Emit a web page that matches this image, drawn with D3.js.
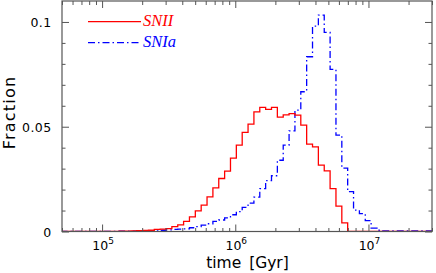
<!DOCTYPE html>
<html>
<head>
<meta charset="utf-8">
<script src="https://cdn.jsdelivr.net/npm/d3@7"></script>
<style>
  body { margin: 0; background: #fff; }
  svg text { font-family: "DejaVu Sans", sans-serif; }
  svg text.legend { font-family: "Liberation Serif", "DejaVu Serif", serif; font-style: italic; }
</style>
</head>
<body>
<script>
//Width and height
var width = 436;
var height = 273;
var margin = {left: 62, right: 4, top: 1, bottom: 41.5};

//Histogram bins: log10(time) of first edge and bin width in dex
var binStart = 4.688;
var binWidth = 0.044;

//Fraction per bin
var snII = [0, 0, 0, 0, 0, 0, 0, 0, 0.0001, 0.0001, 0.0002, 0.0002, 0.0003,
    0.0004, 0.0005, 0.0006, 0.0010, 0.0011, 0.0014, 0.0023, 0.0032, 0.0048, 0.0070,
    0.0098, 0.0126, 0.0165, 0.0208, 0.0253, 0.0288, 0.0350, 0.0412, 0.0473, 0.0512,
    0.0571, 0.0592, 0.0583, 0.0592, 0.0546, 0.0557, 0.0563, 0.0555, 0.0508, 0.0417,
    0.0404, 0.0317, 0.0289, 0.0205, 0.0121, 0.0041,
    0, 0, 0, 0, 0, 0, 0, 0, 0, 0, 0, 0, 0, 0, 0];

var snIa = [0, 0, 0, 0, 0, 0, 0, 0.0001, 0.0001, 0.0001, 0.0002, 0.0002, 0.0002,
    0.0003, 0.0003, 0.0003, 0.0003, 0.0006, 0.0008, 0.0010, 0.0011, 0.0013, 0.0018,
    0.0023, 0.0030, 0.0037, 0.0048, 0.0055, 0.0065, 0.0080, 0.0095, 0.0115, 0.0135,
    0.0164, 0.0205, 0.0243, 0.0266, 0.0340, 0.0412, 0.0480, 0.0579, 0.0667, 0.0834,
    0.0980, 0.1033, 0.0950, 0.0774, 0.0460, 0.0302, 0.0190, 0.0102, 0.0085, 0.0052,
    0.0016, 0.0006,
    0.0003, 0.0003, 0.0003, 0.0003, 0.0003, 0.0003, 0.0003, 0.0003, 0.0003];

//Axis ticks and labels
var xMajor = [1e5, 1e6, 1e7];
var xMajorExp = ["5", "6", "7"];
var yMajor = [0, 0.05, 0.1];
var yMajorLabels = ["0", "0.05", "0.1"];
var yMinor = [0.01, 0.02, 0.03, 0.04, 0.06, 0.07, 0.08, 0.09];

var legendNames = ["SNII", "SNIa"];
var legendColors = ["#ff0000", "#0000ff"];

//Scales
var x = d3.scaleLog()
    .domain([5e4, 3e7])
    .range([margin.left, width - margin.right]);

var y = d3.scaleLinear()
    .domain([0, 0.11])
    .range([height - margin.bottom, margin.top]);

var xMinor = x.ticks().filter(function(d) { return xMajor.indexOf(d) < 0; });

//Create SVG element
var svg = d3.select("body")
    .append("svg")
    .attr("width", width)
    .attr("height", height);

svg.append("clipPath")
    .attr("id", "plot")
    .append("rect")
    .attr("x", margin.left)
    .attr("y", margin.top)
    .attr("width", width - margin.left - margin.right)
    .attr("height", height - margin.top - margin.bottom);

//Histogram as step line
function stepPoints(vals) {
    var pts = vals.map(function(v, i) {
        return [Math.pow(10, binStart + i * binWidth), v];
    });
    pts.push([Math.pow(10, binStart + vals.length * binWidth), vals[vals.length - 1]]);
    return pts;
}

var line = d3.line()
    .x(function(d) { return x(d[0]); })
    .y(function(d) { return y(d[1]); })
    .curve(d3.curveStepAfter);

var plot = svg.append("g").attr("clip-path", "url(#plot)");

plot.append("path")
    .attr("d", line(stepPoints(snIa)))
    .attr("fill", "none")
    .attr("stroke", legendColors[1])
    .attr("stroke-width", 1.3)
    .attr("stroke-dasharray", "7,3,1.5,3");

plot.append("path")
    .attr("d", line(stepPoints(snII)))
    .attr("fill", "none")
    .attr("stroke", legendColors[0])
    .attr("stroke-width", 1.3);

//Axes (ticks pointing inward on all four sides)
var axisColor = "#555";
function styleAxis(g) {
    g.select(".domain").remove();
    g.selectAll("line").attr("stroke", axisColor).attr("stroke-width", 1);
    g.selectAll("text").remove();
}
var bottomY = height - margin.bottom;
var rightX = width - margin.right;

svg.append("g").attr("transform", "translate(0," + bottomY + ")")
    .call(d3.axisBottom(x).tickValues(xMajor).tickSize(-7)).call(styleAxis);
svg.append("g").attr("transform", "translate(0," + bottomY + ")")
    .call(d3.axisBottom(x).tickValues(xMinor).tickSize(-3.5)).call(styleAxis);
svg.append("g").attr("transform", "translate(0," + margin.top + ")")
    .call(d3.axisTop(x).tickValues(xMajor).tickSize(-7)).call(styleAxis);
svg.append("g").attr("transform", "translate(0," + margin.top + ")")
    .call(d3.axisTop(x).tickValues(xMinor).tickSize(-4)).call(styleAxis);
svg.append("g").attr("transform", "translate(" + margin.left + ",0)")
    .call(d3.axisLeft(y).tickValues(yMajor).tickSize(-7)).call(styleAxis);
svg.append("g").attr("transform", "translate(" + margin.left + ",0)")
    .call(d3.axisLeft(y).tickValues(yMinor).tickSize(-3.5)).call(styleAxis);
svg.append("g").attr("transform", "translate(" + rightX + ",0)")
    .call(d3.axisRight(y).tickValues(yMajor).tickSize(-7)).call(styleAxis);
svg.append("g").attr("transform", "translate(" + rightX + ",0)")
    .call(d3.axisRight(y).tickValues(yMinor).tickSize(-3.5)).call(styleAxis);

//Frame
svg.append("rect")
    .attr("x", margin.left)
    .attr("y", margin.top)
    .attr("width", rightX - margin.left)
    .attr("height", bottomY - margin.top)
    .attr("fill", "none")
    .attr("stroke", axisColor)
    .attr("stroke-width", 1.2);

//Tick labels
svg.selectAll(".ylab")
    .data(yMajor)
    .enter()
    .append("text")
    .attr("x", 51.5)
    .attr("y", function(d) { return y(d) + 5; })
    .attr("text-anchor", "end")
    .attr("font-size", 12.5)
    .attr("letter-spacing", 0.4)
    .text(function(d, i) { return yMajorLabels[i]; });

var xl = svg.selectAll(".xlab")
    .data(xMajor)
    .enter()
    .append("text")
    .attr("x", function(d) { return x(d) + 1; })
    .attr("y", 249.5)
    .attr("text-anchor", "middle")
    .attr("font-size", 12.5);
xl.append("tspan").text("10");
xl.append("tspan")
    .attr("font-size", 9)
    .attr("dy", -6)
    .text(function(d, i) { return xMajorExp[i]; });

//Axis titles
svg.append("text")
    .attr("x", 247.5)
    .attr("y", 267.5)
    .attr("text-anchor", "middle")
    .attr("font-size", 15.5)
    .attr("word-spacing", 3)
    .text("time [Gyr]");

svg.append("text")
    .attr("transform", "translate(14.5,112.5) rotate(-90)")
    .attr("text-anchor", "middle")
    .attr("font-size", 16)
    .attr("letter-spacing", 1.2)
    .text("Fraction");

//Legend
var legendY = [21.7, 42.7];
legendNames.forEach(function(name, i) {
    svg.append("line")
        .attr("x1", 88).attr("x2", 141)
        .attr("y1", legendY[i]).attr("y2", legendY[i])
        .attr("stroke", legendColors[i])
        .attr("stroke-width", 1.3)
        .attr("stroke-dasharray", i === 1 ? "7,3,1.5,3" : null);
    svg.append("text")
        .attr("class", "legend")
        .attr("x", 143)
        .attr("y", legendY[i] + 4.5)
        .attr("font-size", 16.5)
        .attr("fill", legendColors[i])
        .text(name);
});
</script>
</body>
</html>
